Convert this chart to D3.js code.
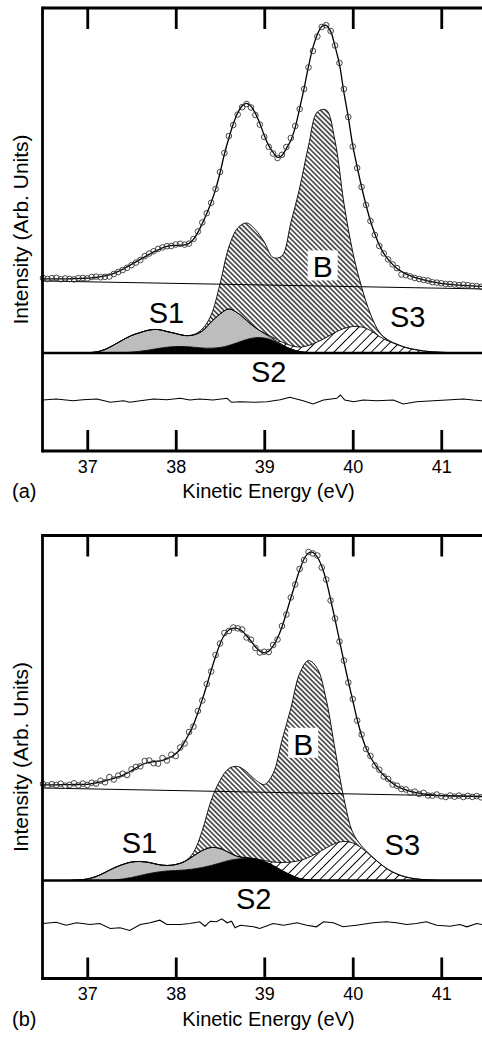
<!DOCTYPE html>
<html><head><meta charset="utf-8">
<script src="https://cdn.jsdelivr.net/npm/d3@7"></script>
<style>
html,body{margin:0;padding:0;background:#fff;}
svg{display:block;}
text{font-family:"Liberation Sans",Arial,Helvetica,sans-serif;fill:#000;}
</style></head><body>
<svg id="chart" width="482" height="1038"></svg>
<script>
// ---------- DATA ----------
const xTicks = [37, 38, 39, 40, 41];
const energyFine = [36.5,36.55,36.6,36.65,36.7,36.75,36.8,36.85,36.9,36.95,
37,37.05,37.1,37.15,37.2,37.25,37.3,37.35,37.4,37.45,
37.5,37.55,37.6,37.65,37.7,37.75,37.8,37.85,37.9,37.95,
38,38.05,38.1,38.15,38.2,38.25,38.3,38.35,38.4,38.45,
38.5,38.55,38.6,38.65,38.7,38.75,38.8,38.85,38.9,38.95,
39,39.05,39.1,39.15,39.2,39.25,39.3,39.35,39.4,39.45,
39.5,39.55,39.6,39.65,39.7,39.75,39.8,39.85,39.9,39.95,
40,40.05,40.1,40.15,40.2,40.25,40.3,40.35,40.4,40.45,
40.5,40.55,40.6,40.65,40.7,40.75,40.8,40.85,40.9,40.95,
41,41.05,41.1,41.15,41.2,41.25,41.3,41.35,41.4,41.45,41.5];
const energyCoarse = [36.5,36.6,36.7,36.8,36.9,37,37.1,37.2,37.3,37.4,
37.5,37.6,37.7,37.8,37.9,38,38.1,38.2,38.3,38.4,
38.5,38.6,38.7,38.8,38.9,39,39.1,39.2,39.3,39.4,
39.5,39.6,39.7,39.8,39.9,40,40.1,40.2,40.3,40.4,
40.5,40.6,40.7,40.8,40.9,41,41.1,41.2,41.3,41.4,41.5];

// Panel (a)
const fitA = [74.1,74.1,74.1,74.1,74.1,74.1,74.2,74.3,74.5,74.7,
74.9,75.2,75.6,76.3,77.1,78.2,79.6,81.6,83.6,86.1,
88.6,91.1,93.6,96.1,98.6,101.1,103.1,105.1,106.6,107.3,
107.6,107.8,108.1,109.6,113.6,120.6,129.6,139.6,150.6,163.6,
180,199,215,229,240,247,249.6,246.6,239.6,229.6,
217.6,207.6,200.6,195.6,197.6,204.6,212.6,225.6,244.6,264.6,
286.6,305.6,318.6,326.6,327.6,321.6,306.6,288.6,260.6,235.6,
207.6,186,166,148,132,119,108,99.6,93.6,88.6,
84.6,81.6,79.1,77.3,75.6,74.3,73.1,72.1,71.1,70.3,
69.6,69.1,68.6,68.2,67.8,67.6,67.3,67.1,66.8,66.6,66.6];
const dataA = [75.0,74.0,74.8,75.2,73.8,74.6,74.0,73.6,74.9,75.0,
74.6,76.0,76.4,75.8,76.2,76.5,79.0,81.0,83.0,85.2,
87.9,90.4,93.0,96.9,99.5,101.8,104.0,105.6,106.8,107.0,
108.5,109.2,108.4,109.4,114.0,121.5,130.5,139.8,150.2,164.0,
181.0,200.0,217.0,228.0,238.5,245.8,249.0,245.5,238.0,228.4,
216.0,206.2,199.5,195.0,198.2,206.0,215.0,227.0,244.0,264.0,
285.5,302.0,316.5,326.0,327.8,322.0,307.5,290.0,264.0,236.0,
206.5,185.0,166.0,148.0,132.0,118.0,107.0,99.6,93.6,88.6,
84.9,78.5,77.8,76.5,75.0,74.0,73.0,72.4,70.8,70.4,
69.8,68.9,69.0,68.5,67.9,68.4,67.8,67.1,66.9,66.2,66.6];
const bgEnergy = [36.5, 41.5];
const bgA = [72, 64];
const s2A = [0,0,0,0,0, 0,0,0,0,0.3, 0.8,1.8,3,4.5,5.8, 6.5,6.5,5.8,5,4.8,
5.5,7.5,10.5,13.5,15.3, 15,12.5,8,4,1.5, 0.5,0,0,0,0, 0,0,0,0,0, 0,0,0,0,0, 0,0,0,0,0,0];
const s1A = [0,0,0,0,0, 0.3,1,3.5,8,12.7, 16.7,18.7,20,19,15.7, 13,11,12.2,17,26.2,
33.5,36.5,29.5,19,10, 4.5,1.5,0.5,0,0, 0,0,0,0,0, 0,0,0,0,0, 0,0,0,0,0, 0,0,0,0,0,0];
const s3A = [0,0,0,0,0, 0,0,0,0,0, 0,0,0,0,0, 0,0,0,0,0, 0,0,0,0,0,
0.5,1.5,2.5,3.5,4.5, 7,11,15.5,20.5,24.5, 26.5,26,22.5,16.5,12, 8.5,5.5,3.5,2,1.2, 0.7,0.4,0.2,0,0,0];
const bA = [0,0,0,0,0, 0,0,0,0,0, 0,0,0,0,0, 0,0,0.3,2,7,
30,62,85,97.5,98, 91,80,86,122.5,159, 199.5,230,227.5,191.5,125.5, 74.5,40,16.5,4.5,1,
0.3,0,0,0,0, 0,0,0,0,0,0];
const residEnergyA = [36.5,36.65,36.84,36.95,37.11,37.26,37.41,37.48,37.6,37.75,37.9,38.05,38.16,38.27,38.42,38.58,38.63,38.73,38.88,39.03,39.18,39.29,39.44,39.55,39.67,39.82,39.86,39.91,40.01,40.12,40.27,40.46,40.57,40.72,40.91,41.06,41.25,41.36,41.46];
const residA = [0,1,-0.7,0.3,1,-2.3,-0.7,-2.3,-0.7,1,0.3,1.7,0,1,0,1.7,-2.3,-1.7,-2.3,-1.7,0.3,2.7,-0.7,-4,0,1.7,5,0,-1.7,0,-0.7,0,-4,-1.7,-0.7,0,1,0,-0.7];
const residLevelA = -47;

// Panel (b)
const fitB = [95.7,95.7,95.7,95.7,95.8,95.8,95.9,96.0,96.0,96.1,
96.2,96.8,97.7,98.6,99.7,100.9,102.2,103.6,105.2,107.3,
109.7,112.5,115.0,117.0,118.2,118.8,119.3,120.2,121.7,123.7,
126.7,131.5,138.5,146.7,155.7,167.7,181.0,195.0,210.0,224.0,
236.5,245.5,250.5,252.3,252.0,249.5,244.8,239.5,233.8,229.3,
227.7,229.3,234.5,242.5,253.5,267.5,282.5,296.7,310.5,321.5,
327.5,328.0,323.5,314.0,300.0,281.0,261.0,240.0,219.0,199.0,
180.0,161.0,145.0,132.5,123.5,116.2,110.2,105.2,100.7,97.2,
94.2,92.2,90.7,89.2,88.2,87.4,86.7,86.0,85.5,85.2,
84.9,84.7,84.6,84.5,84.4,84.3,84.2,84.1,84.0,84.0,84.0];
const dataB = [96.5,95.0,96.3,95.5,96.8,94.8,95.6,97.2,95.2,96.9,
95.5,97.8,96.9,99.8,98.2,103.5,101.0,104.9,106.8,105.5,
111.2,113.6,114.2,119.5,120.0,117.3,116.8,122.5,120.0,125.8,
124.5,133.0,137.0,148.5,154.0,169.5,180.0,196.5,209.0,225.5,
237.0,247.5,249.5,253.0,252.2,251.0,243.0,240.8,232.5,228.0,
228.8,228.5,235.5,241.0,254.5,266.0,283.0,296.0,311.5,320.5,
328.5,327.0,325.0,313.0,301.0,280.0,262.0,239.0,220.0,198.0,
181.5,160.0,146.0,131.5,124.5,115.0,110.8,104.0,101.5,96.0,
94.8,91.5,91.0,88.0,88.9,86.5,87.6,85.0,84.8,86.0,
84.2,83.5,85.0,83.8,84.9,83.5,84.6,83.6,84.4,83.2,84.5];
const bgB = [92.5, 84];
const s2B = [0,0,0,0,0, 0,0,0,0.5,1.5, 3,5,7,8.5,9.5, 10,10.5,11.5,13,15,
17.5,20,21.5,22,21.5, 19,15,10,5.5,2, 0.7,0.2,0,0,0, 0,0,0,0,0, 0,0,0,0,0, 0,0,0,0,0,0];
const s1B = [0,0,0,0,0.5, 1.5,4,8,12,14.5, 15.5,14,11,7.5,5.5, 6,8.5,13,17,18,
14.5,8,2.5,0.8,0.2, 0,0,0,0,0, 0,0,0,0,0, 0,0,0,0,0, 0,0,0,0,0, 0,0,0,0,0,0];
const s3B = [0,0,0,0,0, 0,0,0,0,0, 0,0,0,0,0, 0,0,0,0,0, 0,0,0,0,0,
1,3.5,8,13,18, 22.3,27.3,32.5,37,39, 37.5,32.5,25,17.5,11, 6.5,3.5,1.8,0.8,0.3, 0,0,0,0,0,0];
const bB = [0,0,0,0,0, 0,0,0,0,0, 0,0,0,0,0, 0,0,3.5,20,47,
68,84,90,86,79, 76,88.5,122,153.5,187, 197,184.5,148.5,94,43, 10.5,2,0.5,0,0,
0,0,0,0,0, 0,0,0,0,0,0];
const residEnergyB = [36.5,36.65,36.76,36.88,37.03,37.14,37.26,37.37,37.48,37.6,37.71,37.82,37.9,38.05,38.16,38.27,38.33,38.39,38.46,38.52,38.58,38.63,38.67,38.73,38.88,38.95,39.1,39.22,39.37,39.48,39.59,39.67,39.78,39.89,40.04,40.23,40.38,40.49,40.61,40.72,40.83,40.95,41.1,41.21,41.29,41.4,41.46];
const residB = [1,2.3,-0.7,1.7,0,1,-4,-3.3,-6,0,1.7,4.3,0,0,1,2.7,-1.7,3.3,2.7,5.7,1.7,3.3,-3.3,-0.7,-2.3,-4,1,-0.7,1.7,-0.7,-2.3,2.7,1.7,-2.3,-0.7,1.7,2.7,1.7,0,1,2.7,-0.7,-1.7,0,-2.3,1,0];
const residLevelB = -44;

const panelLetters = ["(a)", "(b)"];
const xTitle = "Kinetic Energy (eV)";
const yTitle = "Intensity (Arb. Units)";

// ---------- DRAW ----------
const W = 482, H = 1038;
const svg = d3.select("#chart");
const defs = svg.append("defs");
function hatch(id, size, angle, sw){
  const p = defs.append("pattern").attr("id", id).attr("patternUnits", "userSpaceOnUse")
    .attr("width", size).attr("height", size).attr("patternTransform", `rotate(${angle})`);
  p.append("rect").attr("width", size).attr("height", size).attr("fill", "#fff");
  p.append("line").attr("x1", size/2).attr("y1", -1).attr("x2", size/2).attr("y2", size+1)
    .attr("stroke", "#000").attr("stroke-width", sw);
}
hatch("hatchB", 3.5, -45, 1.2);
hatch("hatchS3", 6.6, 45, 1.0);

const x = d3.scaleLinear().domain([36.5, 41.5]).range([43, 485.5]);
const yDomain = [-98, 345];
const axisX = 42.5;
const curve = d3.curveCatmullRom.alpha(0.5);

const panels = [
  {top: 8, bottom: 451, fit: fitA, data: dataA, bg: bgA, s2: s2A, s1: s1A, s3: s3A, b: bA,
   rE: residEnergyA, r: residA, rL: residLevelA,
   lab: {S1: [37.895, 29.6], S3: [40.62, 25.6], S2: [39.05, -29.4], B: [39.66, 75.6]}},
  {top: 535.5, bottom: 978.5, fit: fitB, data: dataB, bg: bgB, s2: s2B, s1: s1B, s3: s3B, b: bB,
   rE: residEnergyB, r: residB, rL: residLevelB,
   lab: {S1: [37.59, 27.7], S3: [40.56, 25.7], S2: [38.88, -28.3], B: [39.44, 125.7]}}
];

panels.forEach((P, pi) => {
  const g = svg.append("g");
  const y = d3.scaleLinear().domain(yDomain).range([P.bottom, P.top]);

  // stacked components
  const rows = energyCoarse.map((e, i) => ({e, S2: P.s2[i], S1: P.s1[i], S3: P.s3[i], B: P.b[i]}));
  const series = d3.stack().keys(["S2", "S1", "S3", "B"])(rows);
  const fills = {S2: "#000", S1: "#bdbdbd", S3: "url(#hatchS3)", B: "url(#hatchB)"};
  const area = d3.area().x(d => x(d.data.e)).y0(d => y(d[0])).y1(d => y(d[1])).curve(curve);
  const topLine = d3.line().x(d => x(d.data.e)).y(d => y(d[1])).curve(curve);
  series.forEach(s => {
    g.append("path").attr("d", area(s)).attr("fill", fills[s.key]).attr("stroke", "none");
  });
  series.forEach(s => {
    g.append("path").attr("d", topLine(s)).attr("fill", "none").attr("stroke", "#000").attr("stroke-width", 0.9);
  });

  // B label box
  const lb = P.lab.B;
  g.append("rect").attr("x", x(lb[0]) - 15).attr("y", y(lb[1]) - 27).attr("width", 30).attr("height", 30).attr("fill", "#fff");

  // baseline of components
  g.append("line").attr("x1", axisX).attr("x2", W).attr("y1", y(0)).attr("y2", y(0))
    .attr("stroke", "#000").attr("stroke-width", 2.6);

  // background line
  g.append("path").attr("d", d3.line().x((d, i) => x(bgEnergy[i])).y(d => y(d))(P.bg))
    .attr("fill", "none").attr("stroke", "#000").attr("stroke-width", 1);

  // fit
  g.append("path").attr("d", d3.line().x((d, i) => x(energyFine[i])).y(d => y(d)).curve(curve)(P.fit))
    .attr("fill", "none").attr("stroke", "#000").attr("stroke-width", 1.3);

  // data points
  g.selectAll("circle.pt").data(P.data).enter().append("circle")
    .attr("cx", (d, i) => x(energyFine[i])).attr("cy", d => y(d)).attr("r", 2.8)
    .attr("fill", "none").attr("stroke", "#333").attr("stroke-width", 0.9);

  // residual
  g.append("path").attr("d", d3.line().x((d, i) => x(P.rE[i])).y(d => y(P.rL + d))(P.r))
    .attr("fill", "none").attr("stroke", "#000").attr("stroke-width", 1.1);

  // labels
  ["S1", "S2", "S3", "B"].forEach(k => {
    g.append("text").attr("x", x(P.lab[k][0])).attr("y", y(P.lab[k][1]))
      .attr("text-anchor", "middle").attr("font-size", k === "B" ? 30 : 29).text(k);
  });

  // axes ticks
  const bottomAxis = d3.axisBottom(x).tickValues(xTicks).tickSize(-21).tickPadding(9).tickFormat(d3.format("d"));
  const ba = g.append("g").attr("transform", `translate(0,${P.bottom})`).call(bottomAxis);
  const topAxis = d3.axisTop(x).tickValues(xTicks).tickSize(-21).tickFormat("");
  const ta = g.append("g").attr("transform", `translate(0,${P.top})`).call(topAxis);
  [ba, ta].forEach(a => {
    a.select(".domain").remove();
    a.selectAll(".tick line").attr("stroke", "#000").attr("stroke-width", 2.8);
  });
  ba.selectAll(".tick text").attr("font-size", 18).attr("font-family", "Liberation Sans, Arial, sans-serif").attr("fill", "#000");

  // frame
  g.append("line").attr("x1", axisX).attr("x2", W).attr("y1", P.top).attr("y2", P.top).attr("stroke", "#000").attr("stroke-width", 2.8);
  g.append("line").attr("x1", axisX).attr("x2", W).attr("y1", P.bottom).attr("y2", P.bottom).attr("stroke", "#000").attr("stroke-width", 2.8);
  g.append("line").attr("x1", axisX).attr("x2", axisX).attr("y1", P.top - 1.4).attr("y2", P.bottom + 1.4).attr("stroke", "#000").attr("stroke-width", 2.8);

  // titles
  g.append("text").attr("x", 268.5).attr("y", P.bottom + 47).attr("text-anchor", "middle").attr("font-size", 20).text(xTitle);
  g.append("text").attr("x", 12).attr("y", P.bottom + 47).attr("font-size", 20).text(panelLetters[pi]);
  g.append("text").attr("transform", `translate(28,${(P.top + P.bottom) / 2}) rotate(-90)`)
    .attr("text-anchor", "middle").attr("font-size", 21).text(yTitle);
});
</script>
</body></html>
